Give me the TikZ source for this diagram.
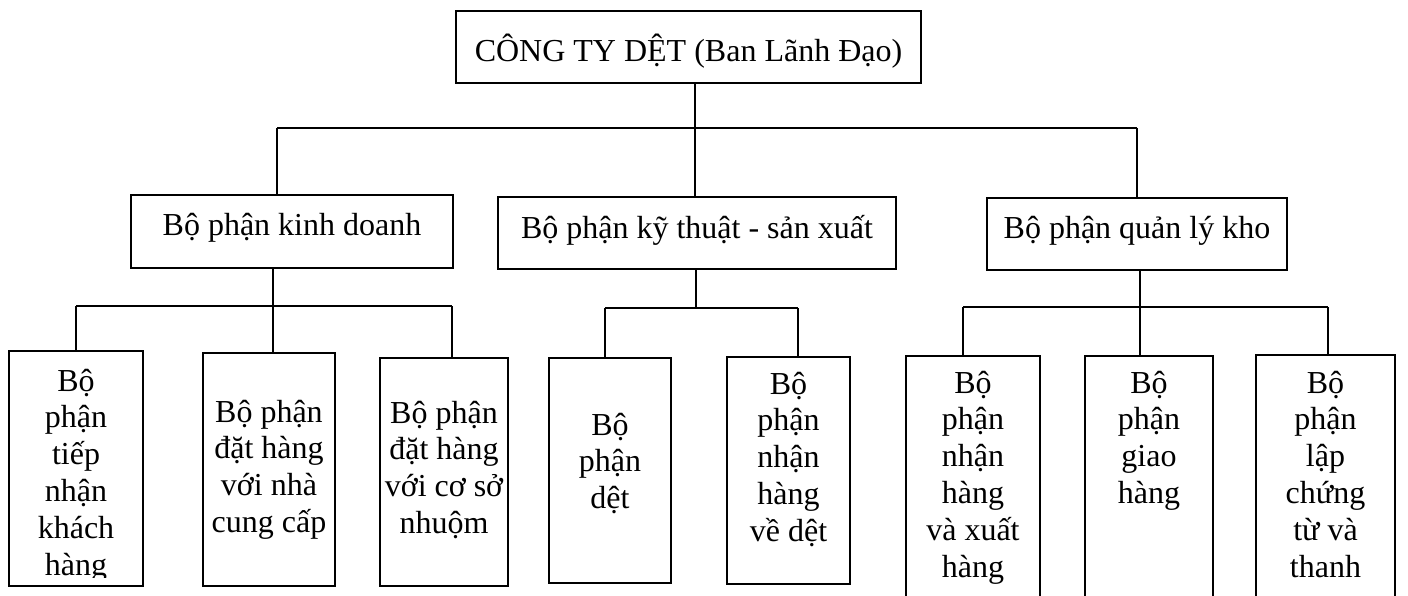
\documentclass[tikz,border=0pt]{standalone}
\usepackage{fontspec}
\setmainfont{Liberation Serif}
\usetikzlibrary{calc}

% one unit = one pixel, y grows downwards
\tikzset{
  orgbox/.style={draw, line width=2.2pt, inner sep=0pt, outer sep=0pt,
    anchor=north west, font=\fontsize{32}{36.8}\selectfont},
  link/.style={line width=2pt},
  toplink/.style={line width=1.8pt},
}
% \boxtext{height}{width}{first baseline}{lines}
\newcommand\boxtext[4]{\parbox[t][#1pt][t]{#2pt}{\centering\rule{0pt}{#3pt}#4}}

\begin{document}
\begin{tikzpicture}[x=1pt,y=-1pt]
\useasboundingbox (0,0) rectangle (1408,596);
\clip (0,0) rectangle (1408,596);

% management
\node[orgbox] (top) at (456,11) {\boxtext{72}{465}{51}{CÔNG TY DỆT (Ban Lãnh Đạo)}};

% departments
\node[orgbox] (kd) at (131,195) {\boxtext{73}{322}{41}{Bộ phận kinh doanh}};
\node[orgbox] (kt) at (498,197) {\boxtext{72}{398}{41}{Bộ phận kỹ thuật - sản xuất}};
\node[orgbox] (ql) at (987,198) {\boxtext{72}{300}{40}{Bộ phận quản lý kho}};

% sales units
\begin{scope}
  \clip (0,0) rectangle (1408,577);
  \node[orgbox] (kd1) at (9,351) {\boxtext{235}{134}{40}{Bộ\\phận\\tiếp\\nhận\\khách\\hàng}};
\end{scope}
\draw[line width=2.2pt] (kd1.north west) rectangle (kd1.south east);
\node[orgbox] (kd2) at (203,353) {\boxtext{233}{132}{69}{Bộ phận\\đặt hàng\\với nhà\\cung cấp}};
\node[orgbox] (kd3) at (380,358) {\boxtext{228}{128}{65}{Bộ phận\\đặt hàng\\với cơ sở\\nhuộm}};

% production units
\node[orgbox] (kt1) at (549,358) {\boxtext{225}{122}{77}{Bộ\\phận\\dệt}};
\node[orgbox] (kt2) at (727,357) {\boxtext{227}{123}{37}{Bộ\\phận\\nhận\\hàng\\về dệt}};

% warehouse units
\node[orgbox] (ql1) at (906,356) {\boxtext{270}{134}{37}{Bộ\\phận\\nhận\\hàng\\và xuất\\hàng}};
\node[orgbox] (ql2) at (1085,356) {\boxtext{270}{128}{37}{Bộ\\phận\\giao\\hàng}};
\node[orgbox] (ql3) at (1256,355) {\boxtext{270}{139}{38}{Bộ\\phận\\lập\\chứng\\từ và\\thanh}};

% level 1 bus
\coordinate (j0) at (695,128);
\coordinate (bL) at (277,128);
\coordinate (bR) at (1137,128);
\draw[toplink] (j0 |- top.south) -- (j0);
\draw[toplink] (bL) -- (bR);
\draw[toplink] (bL) -- (bL |- kd.north);
\draw[toplink] (j0) -- (j0 |- kt.north);
\draw[toplink] (bR) -- (bR |- ql.north);

% sales bus
\coordinate (s0) at (273,306);
\coordinate (sL) at (76,306);
\coordinate (sR) at (452,306);
\draw[link] (s0 |- kd.south) -- (s0);
\draw[link] (sL) -- (sR);
\draw[link] (sL) -- (sL |- kd1.north);
\draw[link] (s0) -- (s0 |- kd2.north);
\draw[link] (sR) -- (sR |- kd3.north);

% production bus
\coordinate (p0) at (696,308);
\coordinate (pL) at (605,308);
\coordinate (pR) at (798,308);
\draw[link] (p0 |- kt.south) -- (p0);
\draw[link] (pL) -- (pR);
\draw[link] (pL) -- (pL |- kt1.north);
\draw[link] (pR) -- (pR |- kt2.north);

% warehouse bus
\coordinate (w0) at (1140,307);
\coordinate (wL) at (963,307);
\coordinate (wR) at (1328,307);
\draw[link] (w0 |- ql.south) -- (w0);
\draw[link] (wL) -- (wR);
\draw[link] (wL) -- (wL |- ql1.north);
\draw[link] (w0) -- (w0 |- ql2.north);
\draw[link] (wR) -- (wR |- ql3.north);
\end{tikzpicture}
\end{document}
